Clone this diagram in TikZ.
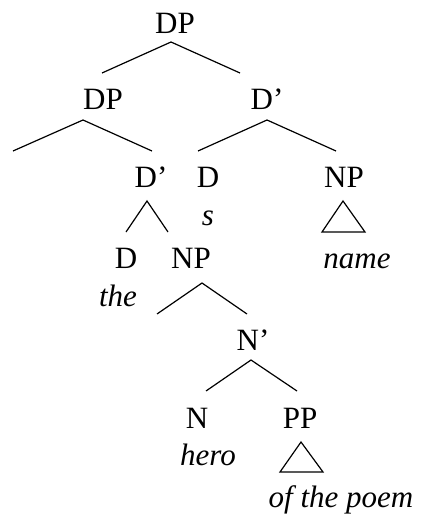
\documentclass[tikz,border=0pt]{standalone}
\usepackage{fontspec}
\setmainfont{Liberation Serif}
\usepackage{tikz}
\tikzset{
  cat/.style={anchor=base, inner sep=0pt, font=\fontsize{31}{37}\selectfont},
  lex/.style={cat, font=\fontsize{31}{37}\selectfont\itshape},
  branch/.style={line width=1.2pt}
}
\def\fork(#1)(#2)(#3){\draw[branch] (#2) -- (#1) -- (#3);}
\def\tri(#1)(#2)(#3){\draw[branch] (#1) -- (#2) -- (#3) -- cycle;}

\begin{document}
\begin{tikzpicture}[x=1pt, y=-1pt]
			%%%%% START %%%%%
			\useasboundingbox (0, 0) rectangle (421, 516);
			
			\node[cat] (DPtop) at (175, 34) {DP};
			\node[cat] (DPposs) at (103, 110) {DP};
			\node[cat] (Dbar) at (267, 110) {D'};
			
			\node[cat] (Dbarposs) at (151, 187) {D'};
			\node[cat] (Dposs) at (208, 187) {D};
			\node[cat] (NPname) at (344, 187) {NP};
			\node[lex] (s) at (208, 225) {s};
			
			\node[cat] (Dthe) at (126, 268) {D};
			\node[cat] (NPhero) at (191, 268) {NP};
			\node[lex] (name) at (357, 268) {name};
			\node[lex] (the) at (118, 306) {the};
			
			\node[cat] (Nbar) at (253, 350) {N'};
			
			\node[cat] (N) at (197, 428) {N};
			\node[cat] (PP) at (300, 428) {PP};
			\node[lex] (hero) at (208, 465) {hero};
			\node[lex] (poem) at (341, 507) {of the poem};
			
			% branch points
			\coordinate (DPtop-a) at (171, 42);
			\coordinate (DPtop-l) at (102, 73);
			\coordinate (DPtop-r) at (240, 73);
			
			\coordinate (DPposs-a) at (83, 120);
			\coordinate (DPposs-l) at (13, 151);
			\coordinate (DPposs-r) at (152, 151);
			
			\coordinate (Dbar-a) at (267, 120);
			\coordinate (Dbar-l) at (198, 151);
			\coordinate (Dbar-r) at (336, 151);
			
			\coordinate (Dbarposs-a) at (147, 201);
			\coordinate (Dbarposs-l) at (126, 232);
			\coordinate (Dbarposs-r) at (168, 232);
			
			\coordinate (NPname-a) at (343, 201);
			\coordinate (NPname-l) at (322, 232);
			\coordinate (NPname-r) at (365, 232);
			
			\coordinate (NPhero-a) at (202, 283);
			\coordinate (NPhero-l) at (157, 314);
			\coordinate (NPhero-r) at (247, 314);
			
			\coordinate (Nbar-a) at (251, 360);
			\coordinate (Nbar-l) at (206, 391);
			\coordinate (Nbar-r) at (297, 391);
			
			\coordinate (PP-a) at (301, 442);
			\coordinate (PP-l) at (280, 472);
			\coordinate (PP-r) at (323, 472);
			
			\fork(DPtop-a)(DPtop-l)(DPtop-r);
			\fork(DPposs-a)(DPposs-l)(DPposs-r);
			\fork(Dbar-a)(Dbar-l)(Dbar-r);
			\fork(Dbarposs-a)(Dbarposs-l)(Dbarposs-r);
			\fork(NPhero-a)(NPhero-l)(NPhero-r);
			\fork(Nbar-a)(Nbar-l)(Nbar-r);
			
			\tri(NPname-a)(NPname-l)(NPname-r);
			\tri(PP-a)(PP-l)(PP-r);
			
			%%%%% END %%%%%
		\end{tikzpicture}
\end{document}
